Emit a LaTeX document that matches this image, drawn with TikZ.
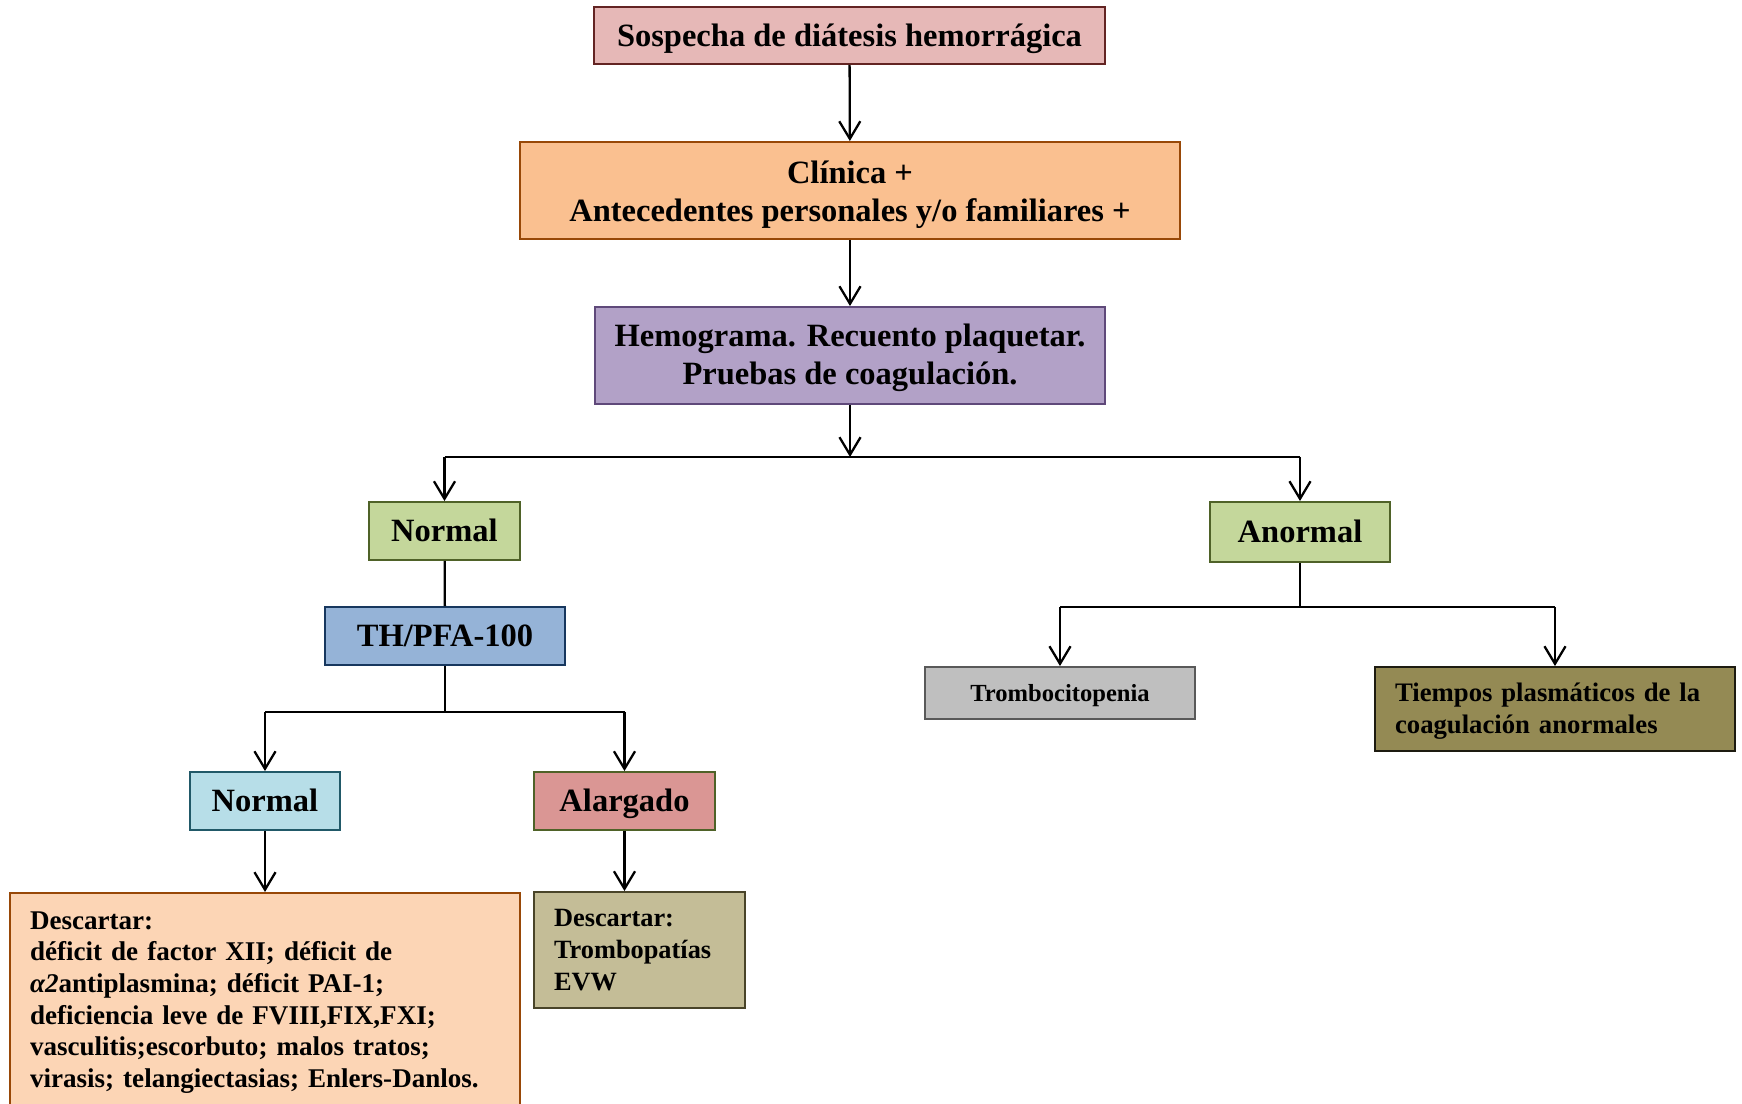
\documentclass[tikz,border=0pt]{standalone}
\usepackage{fontspec}
\setmainfont{Liberation Serif}
\usepackage{xcolor}
\usetikzlibrary{arrows.meta}

\definecolor{rosa}{HTML}{E6B8B7}
\definecolor{rosaborde}{HTML}{632423}
\definecolor{naranja}{HTML}{FAC090}
\definecolor{naranjaborde}{HTML}{984807}
\definecolor{lila}{HTML}{B2A1C7}
\definecolor{lilaborde}{HTML}{5F497A}
\definecolor{verde}{HTML}{C4D79B}
\definecolor{verdeborde}{HTML}{4F6228}
\definecolor{azul}{HTML}{95B3D7}
\definecolor{azulborde}{HTML}{17375E}
\definecolor{celeste}{HTML}{B7DEE8}
\definecolor{celesteborde}{HTML}{215968}
\definecolor{salmon}{HTML}{DA9694}
\definecolor{melocoton}{HTML}{FCD5B5}
\definecolor{caqui}{HTML}{C4BD97}
\definecolor{caquiborde}{HTML}{494429}
\definecolor{gris}{HTML}{BFBFBF}
\definecolor{grisborde}{HTML}{595959}
\definecolor{oliva}{HTML}{948A54}
\definecolor{olivaborde}{HTML}{1D1B10}

\tikzset{
    caja/.style={draw, line width=1.1pt, inner sep=0pt, align=center,
        font=\bfseries\fontsize{18.5}{22}\selectfont},
    unalinea/.style={text height=13pt, text depth=0.5pt},
    cajatexto/.style={draw, line width=1.1pt, inner ysep=0pt, inner xsep=0.4cm, align=left,
        font=\bfseries\fontsize{15.4}{18}\selectfont},
    flecha/.style={-{Straight Barb[length=10pt,width=12pt]}, line width=1.3pt},
    linea/.style={line width=1.3pt},
}

\begin{document}
\begin{tikzpicture}[x=0.02cm, y=-0.02cm]
        \clip (0,0) rectangle (1742,1104);
        \fill[white] (0,0) rectangle (1742,1104);

        \node[caja, unalinea, fill=rosa, draw=rosaborde, minimum width=10.22cm, minimum height=1.14cm] (sospecha) at (849.5,35.5) {Sospecha de diátesis hemorrágica};
        \node[caja, fill=naranja, draw=naranjaborde, minimum width=13.2cm, minimum height=1.94cm] (clinica) at (850,190.5) {\rule{0pt}{17.5pt}Clínica +\\Antecedentes personales y/o familiares +};
        \node[caja, fill=lila, draw=lilaborde, minimum width=10.2cm, minimum height=1.94cm] (hemo) at (850,355.5) {\rule{0pt}{15.3pt}Hemograma. Recuento plaquetar.\\Pruebas de coagulación.};

        \node[caja, unalinea, fill=verde, draw=verdeborde, minimum width=3.02cm, minimum height=1.16cm] (normal) at (444.5,531) {Normal};
        \node[caja, unalinea, fill=verde, draw=verdeborde, minimum width=3.6cm, minimum height=1.2cm] (anormal) at (1300,532) {Anormal};

        \node[caja, unalinea, fill=azul, draw=azulborde, minimum width=4.8cm, minimum height=1.16cm] (thpfa) at (445,636) {TH/PFA-100};
        \node[caja, unalinea, fill=celeste, draw=celesteborde, minimum width=3cm, minimum height=1.16cm] (normaldos) at (265,801) {Normal};
        \node[caja, unalinea, fill=salmon, draw=verdeborde, minimum width=3.62cm, minimum height=1.16cm] (alargado) at (624.5,801) {Alargado};

        \node[cajatexto, fill=melocoton, draw=naranjaborde, text width=9.4cm, inner ysep=0.37cm, anchor=north] (descartaruno) at (265,892) {Descartar:\\déficit de factor XII; déficit de\\{\itshape α2}antiplasmina; déficit PAI-1;\\deficiencia leve de FVIII,FIX,FXI;\\vasculitis;escorbuto; malos tratos;\\virasis; telangiectasias; Enlers-Danlos.\\ \strut};
        \node[cajatexto, fill=caqui, draw=caquiborde, text width=3.42cm, minimum height=2.32cm, font=\bfseries\fontsize{15}{18}\selectfont] (descartardos) at (639.5,950) {Descartar:\\Trombopatías\\EVW};

        \node[caja, unalinea, fill=gris, draw=grisborde, minimum width=5.4cm, minimum height=1.04cm, text height=10pt, font=\bfseries\fontsize{14}{18}\selectfont] (tromb) at (1060,693) {Trombocitopenia};
        \node[cajatexto, fill=oliva, draw=olivaborde, text width=6.4cm, minimum height=1.68cm, font=\bfseries\fontsize{15.2}{18}\selectfont] (tiempos) at (1555,709) {\rule{0pt}{13pt}Tiempos plasmáticos de la\\coagulación anormales};

        \coordinate (jhemo) at (850,457);
        \coordinate (jthpfa) at (445,712);
        \coordinate (janormal) at (1300,607);

        \draw[flecha] (sospecha) -- (clinica);
        \draw[flecha] (clinica) -- (hemo);
        \draw[flecha] (hemo) -- (jhemo);
        \draw[linea] (normal.north |- jhemo) -- (anormal.north |- jhemo);
        \draw[flecha] (normal.north |- jhemo) -- (normal);
        \draw[flecha] (anormal.north |- jhemo) -- (anormal);

        \draw[linea] (normal) -- (thpfa);
        \draw[linea] (thpfa) -- (jthpfa);
        \draw[linea] (normaldos.north |- jthpfa) -- (alargado.north |- jthpfa);
        \draw[flecha] (normaldos.north |- jthpfa) -- (normaldos);
        \draw[flecha] (alargado.north |- jthpfa) -- (alargado);
        \draw[flecha] (normaldos) -- (normaldos.south |- descartaruno.north);
        \draw[flecha] (alargado) -- (alargado.south |- descartardos.north);

        \draw[linea] (anormal) -- (janormal);
        \draw[linea] (tromb.north |- janormal) -- (tiempos.north |- janormal);
        \draw[flecha] (tromb.north |- janormal) -- (tromb);
        \draw[flecha] (tiempos.north |- janormal) -- (tiempos);
    \end{tikzpicture}
\end{document}
